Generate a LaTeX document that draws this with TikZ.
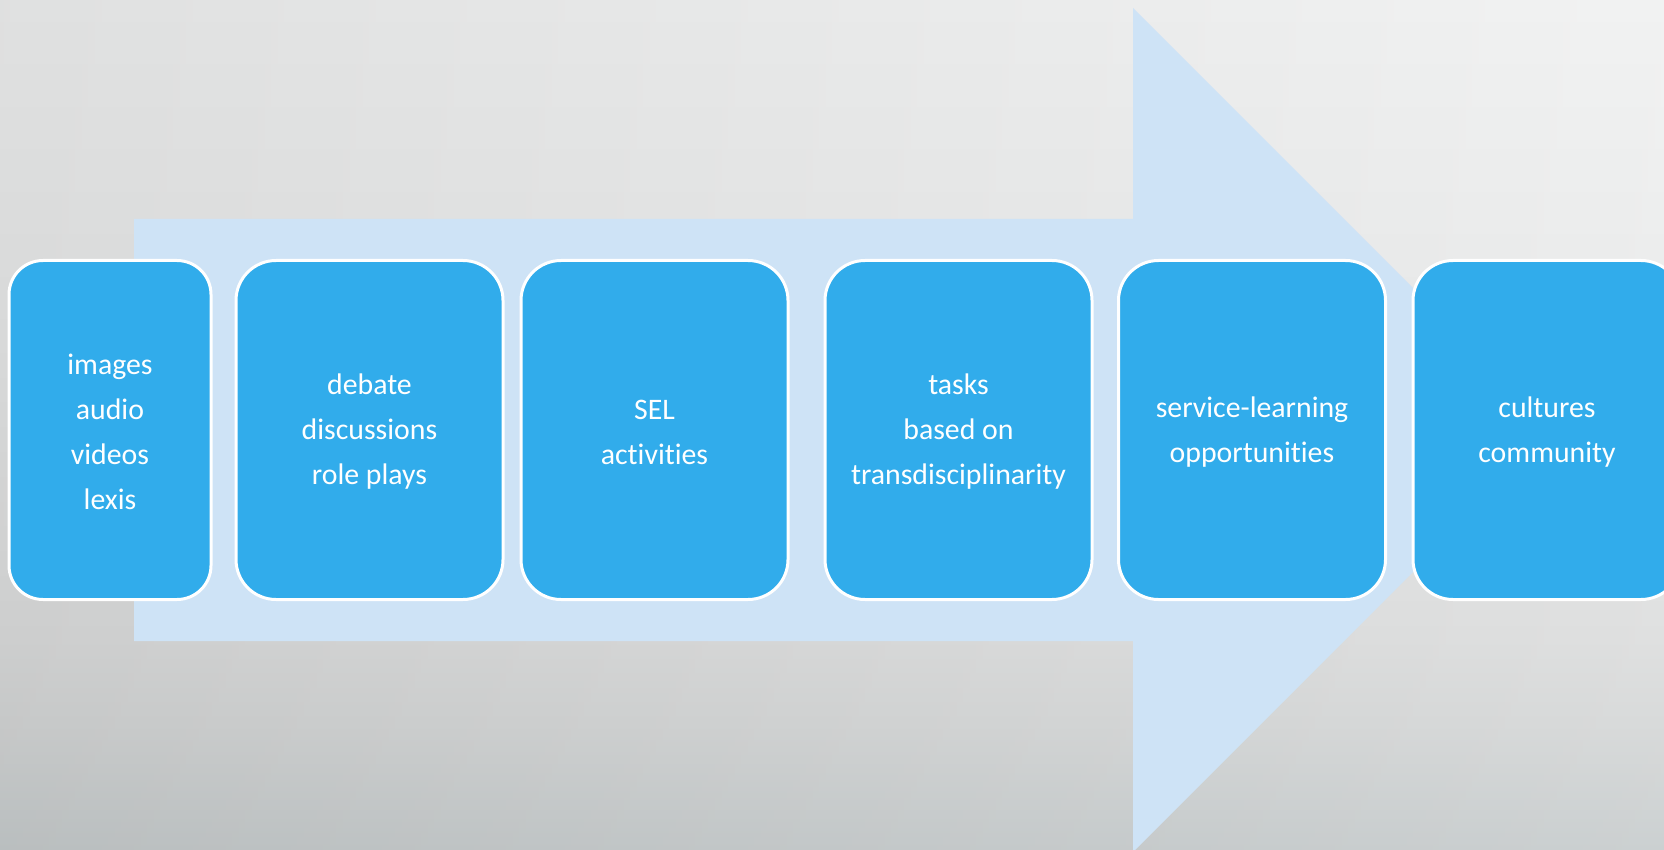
\documentclass[tikz,border=0pt]{standalone}
\usepackage{fontspec}
\setmainfont[Ligatures=NoCommon]{Carlito}
\definecolor{bga}{HTML}{C8CDCE}
\definecolor{bgb}{HTML}{D6D8D8}
\definecolor{bgc}{HTML}{DDDEDE}
\definecolor{bgd}{HTML}{E9EAEA}
\definecolor{bge}{HTML}{F1F2F2}
\definecolor{arrowc}{HTML}{CEE3F6}
\definecolor{boxc}{HTML}{31ACEB}
\pgfdeclareverticalshading{bgvert}{100bp}{color(0bp)=(bga); color(25bp)=(bga); color(32.5bp)=(bgb); color(37.5bp)=(bgc); color(55bp)=(bgd); color(75bp)=(bge); color(100bp)=(bge)}
\tikzset{
  box/.style={draw=white, line width=1.5pt, fill=boxc, rounded corners=20pt, minimum height=169.5pt, inner sep=0pt},
  lbl/.style={text=white, align=center, font=\fontsize{14.9}{22.5}\selectfont}
}
\begin{document}
\begin{tikzpicture}[x=0.5pt,y=-0.5pt]
\useasboundingbox (0,0) rectangle (1664,850);
\clip (0,0) rectangle (1664,850);
% background
\shade[shading=bgvert] (0,0) rectangle (1664,850);
\shade[left color=black, right color=white, opacity=0.07] (0,0) rectangle (1664,850);
% big arrow
\fill[arrowc] (134,219) -- (1133,219) -- (1133,8) -- (1555,430) -- (1133,852) -- (1133,641) -- (134,641) -- cycle;
% boxes
\node[box, minimum width=101pt, rounded corners=17pt] (b1) at (110,430) {};
\node[box, minimum width=133.5pt] (b2) at (369.5,430) {};
\node[box, minimum width=133.5pt] (b3) at (654.5,430) {};
\node[box, minimum width=133.5pt] (b4) at (958.5,430) {};
\node[box, minimum width=133.5pt] (b5) at (1252,430) {};
\node[box, minimum width=134pt] (b6) at (1547,430) {};
% labels
\node[lbl] (t1) at (110,432) {images\\audio\\videos\\lexis};
\node[lbl] (t2) at (369.5,432) {debate\\discussions\\role plays};
\node[lbl] (t3) at (654.5,432) {SEL\\activities};
\node[lbl] (t4) at (958.5,432) {tasks\\based on\\transdisciplinarity};
\node[lbl] (t5) at (1252,432) {service-learning\\opportunities};
\node[lbl] (t6) at (1547,432) {cultures\\community};
\end{tikzpicture}
\end{document}
